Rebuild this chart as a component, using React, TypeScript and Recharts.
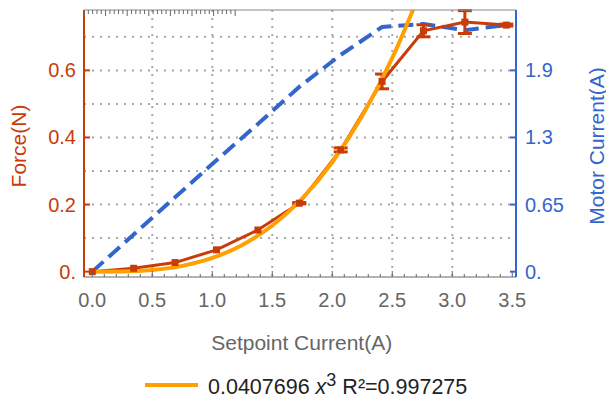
import { ComposedChart, Line, XAxis, YAxis, CartesianGrid, ErrorBar } from 'recharts'

// measured points
const setpoint = [0, 0.345, 0.69, 1.035, 1.38, 1.725, 2.07, 2.415, 2.76, 3.105, 3.45]
const force = [0.0, 0.01, 0.027, 0.065, 0.124, 0.204, 0.363, 0.567, 0.718, 0.744, 0.735]
const forceErr = [0, 0, 0, 0, 0, 0.002, 0.006, 0.022, 0.018, 0.034, 0.003]
const motorCurrent = [0, 0.36, 0.72, 1.08, 1.43, 1.79, 2.1, 2.37, 2.4, 2.34, 2.39]

// cubic fit curve
const fitX = [0, 0.25, 0.5, 0.75, 1, 1.25, 1.5, 1.75, 2, 2.25, 2.5, 2.75]
const fitForce = [0, 0.0006, 0.0051, 0.0172, 0.0408, 0.0796, 0.1376, 0.2185, 0.3262, 0.4644, 0.637, 0.848]

const forceTicks = [0, 0.2, 0.4, 0.6]
const forceTickLabels = ['0.', '0.2', '0.4', '0.6']
const motorTicks = [0, 0.65, 1.3, 1.95]
const motorTickLabels = ['0.', '0.65', '1.3', '1.9']
const forceGrid = [0.1, 0.2, 0.3, 0.4, 0.5, 0.6, 0.7]
const xGrid = [0.5, 1, 1.5, 2, 2.5, 3]

// 0.0 .. 3.5 every 0.1, labels on the 0.5 ones
const minorTicks = Array.from({ length: 36 }, (_, i) => i / 10)

const data = setpoint.map((x, i) => ({
  x,
  force: force[i],
  err: forceErr[i],
  motor: motorCurrent[i],
}))
const fitData = fitX.map((x, i) => ({ x, fit: fitForce[i] }))

const RED = '#c83c0a'
const BLUE = '#3366cc'
const ORANGE = '#ffa000'
const GRAY = '#666'
const FONT = "'Liberation Sans', Arial, sans-serif"

const isMajor = (v: number) => Math.abs(v * 2 - Math.round(v * 2)) < 1e-6

const BottomTick = (props: any) => {
  const { x, y, payload } = props
  const v = payload.value
  const major = isMajor(v)
  return (
    <g>
      <line x1={x} x2={x} y1={y} y2={y - (major ? 6 : 3)} stroke={GRAY} strokeWidth={1} />
      {major && (
        <text x={x} y={y + 30} textAnchor="middle" fill={GRAY} fontSize={20}>
          {v.toFixed(1)}
        </text>
      )}
    </g>
  )
}

const TopTick = (props: any) => {
  const { x, y, payload } = props
  const major = isMajor(payload.value)
  return <line x1={x} x2={x} y1={y} y2={y + (major ? 6 : 4)} stroke={GRAY} strokeWidth={1} />
}

const LeftTick = (props: any) => {
  const { x, y, payload, index } = props
  return (
    <g>
      <line x1={x} x2={x + 6} y1={y} y2={y} stroke={RED} strokeWidth={2} />
      <text x={x - 8} y={y + 7} textAnchor="end" fill={RED} fontSize={20}>
        {forceTickLabels[index] ?? payload.value}
      </text>
    </g>
  )
}

const RightTick = (props: any) => {
  const { x, y, payload, index } = props
  return (
    <g>
      <line x1={x} x2={x - 6} y1={y} y2={y} stroke={BLUE} strokeWidth={2} />
      <text x={x + 9} y={y + 7} textAnchor="start" fill={BLUE} fontSize={20}>
        {motorTickLabels[index] ?? payload.value}
      </text>
    </g>
  )
}

const SquareDot = (props: any) => {
  const { cx, cy, index } = props
  if (cx == null || cy == null) return <g key={index} />
  return <rect key={index} x={cx - 3.5} y={cy - 3.5} width={7} height={7} fill={RED} />
}

export default function App() {
  return (
    <div style={{ position: 'absolute', left: 0, top: 0, width: 606, height: 402, fontFamily: FONT }}>
      <ComposedChart
        width={606}
        height={402}
        data={data}
        margin={{ top: 9, right: 0, bottom: 0, left: 0 }}
        style={{ fontFamily: FONT }}
      >
        <CartesianGrid
          yAxisId="left"
          horizontalValues={forceGrid}
          verticalValues={xGrid}
          stroke="#a8a8a8"
          strokeWidth={2}
          strokeDasharray="2 6"
        />
        <XAxis
          dataKey="x"
          type="number"
          domain={[-0.069, 3.531]}
          allowDataOverflow
          ticks={minorTicks}
          interval={0}
          height={125}
          tickSize={0}
          tickMargin={0}
          tickLine={false}
          tick={<BottomTick />}
          axisLine={{ stroke: GRAY, strokeWidth: 1 }}
        />
        <XAxis
          xAxisId="top"
          orientation="top"
          type="number"
          domain={[-0.069, 3.531]}
          allowDataOverflow
          ticks={minorTicks}
          interval={0}
          height={1}
          tickSize={0}
          tickMargin={0}
          tickLine={false}
          tick={<TopTick />}
          axisLine={{ stroke: '#888', strokeWidth: 1 }}
        />
        <YAxis
          yAxisId="left"
          type="number"
          domain={[-0.016, 0.78]}
          allowDataOverflow
          ticks={forceTicks}
          interval={0}
          width={84}
          tickSize={0}
          tickMargin={0}
          tickLine={false}
          tick={<LeftTick />}
          axisLine={{ stroke: RED, strokeWidth: 2 }}
        />
        <YAxis
          yAxisId="right"
          orientation="right"
          type="number"
          domain={[-0.052, 2.535]}
          allowDataOverflow
          ticks={motorTicks}
          interval={0}
          width={90}
          tickSize={0}
          tickMargin={0}
          tickLine={false}
          tick={<RightTick />}
          axisLine={{ stroke: BLUE, strokeWidth: 2 }}
        />
        <Line
          yAxisId="right"
          dataKey="motor"
          stroke={BLUE}
          strokeWidth={4}
          strokeDasharray="15 7"
          dot={false}
          isAnimationActive={false}
        />
        <Line
          yAxisId="left"
          dataKey="force"
          stroke={RED}
          strokeWidth={3}
          dot={<SquareDot />}
          isAnimationActive={false}
        >
          <ErrorBar dataKey="err" width={7} strokeWidth={3} stroke={RED} direction="y" />
        </Line>
        <Line
          yAxisId="left"
          data={fitData}
          dataKey="fit"
          type="monotone"
          stroke={ORANGE}
          strokeWidth={4}
          dot={false}
          isAnimationActive={false}
        />
      </ComposedChart>

      {/* axis titles */}
      <div
        style={{
          position: 'absolute', left: 301.7, top: 342, transform: 'translate(-50%, -50%)',
          fontSize: 21, lineHeight: 1, color: GRAY, whiteSpace: 'nowrap',
        }}
      >
        Setpoint Current(A)
      </div>
      <div
        style={{
          position: 'absolute', left: 17.5, top: 145.5, transform: 'translate(-50%, -50%) rotate(-90deg)',
          fontSize: 21, lineHeight: 1, color: RED, whiteSpace: 'nowrap',
        }}
      >
        Force(N)
      </div>
      <div
        style={{
          position: 'absolute', left: 596, top: 146, transform: 'translate(-50%, -50%) rotate(-90deg)',
          fontSize: 21, lineHeight: 1, color: BLUE, whiteSpace: 'nowrap',
        }}
      >
        Motor Current(A)
      </div>

      {/* legend */}
      <div style={{ position: 'absolute', left: 145, top: 383, width: 53, height: 4, background: ORANGE }} />
      <div
        style={{
          position: 'absolute', left: 208, top: 375, fontSize: 21.5, lineHeight: '25px',
          color: '#222', whiteSpace: 'nowrap',
        }}
      >
        0.0407696 <i>x</i>
        <sup style={{ fontSize: 18, verticalAlign: 'top', position: 'relative', top: -7 }}>3</sup> R²=0.997275
      </div>
    </div>
  )
}
